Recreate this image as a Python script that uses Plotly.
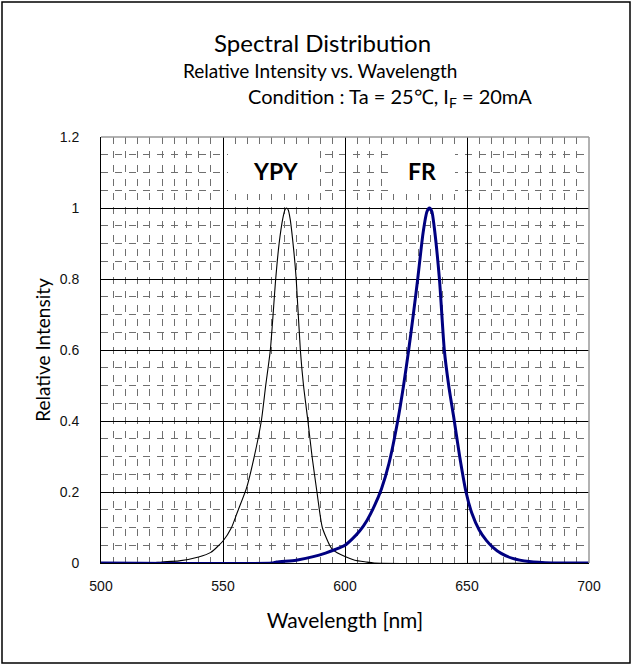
import plotly.graph_objects as go

# ---- data ----
ypy_wl = [500, 520, 525, 532, 540, 545, 550, 553.5, 556, 559.6, 562, 565.7, 567.5, 569.4,
          571.6, 573, 574.5, 575.4, 576, 576.7, 577.5, 579, 580, 581.7, 583, 584.8, 586.5, 588.5, 590.7,
          593.7, 595, 600, 604, 608.6, 612, 700]
ypy_val = [0, 0, 0.003, 0.006, 0.017, 0.03, 0.062, 0.1, 0.145, 0.21, 0.275, 0.4, 0.5, 0.6,
           0.8, 0.9, 0.97, 0.995, 1.0, 0.995, 0.97, 0.88, 0.8, 0.6, 0.5, 0.4, 0.3, 0.2, 0.1,
           0.05, 0.037, 0.018, 0.008, 0.003, 0, 0]

fr_wl = [500, 570, 572, 580, 587, 592, 596, 600, 603, 606, 609, 612, 615, 618, 621.6, 624,
         626.1, 628, 629.8, 632, 633.6, 634.6, 635.6, 636.5, 638.7, 640.7, 642.5, 644.8, 647, 649.6, 652,
         655, 658, 660.5, 664, 668.7, 675.5, 685, 700]
fr_val = [0, 0, 0.003, 0.008, 0.018, 0.028, 0.038, 0.05, 0.068, 0.09, 0.12, 0.16, 0.21, 0.28, 0.4, 0.5,
          0.6, 0.7, 0.8, 0.93, 0.99, 1.0, 0.99, 0.95, 0.8, 0.6, 0.5, 0.4, 0.3, 0.2, 0.14,
          0.093, 0.063, 0.045, 0.027, 0.013, 0.004, 0, 0]

x_ticks = [500, 550, 600, 650, 700]
y_ticks = [0, 0.2, 0.4, 0.6, 0.8, 1.0, 1.2]
y_tick_text = ["0", "0.2", "0.4", "0.6", "0.8", "1", "1.2"]

W, H = 632, 665
ML, MR, MT, MB = 101, 43, 137, 102
pw, ph = W - ML - MR, H - MT - MB

fig = go.Figure()
fig.add_trace(go.Scatter(x=ypy_wl, y=ypy_val, mode="lines", line_shape="spline",
                         line=dict(color="black", width=1.1, smoothing=0.6), name="YPY", hoverinfo="skip"))
fig.add_trace(go.Scatter(x=fr_wl, y=fr_val, mode="lines", line_shape="spline",
                         line=dict(color="#000080", width=3, smoothing=0.6), name="FR", hoverinfo="skip"))

TXT = "Lato"
tickfont = dict(family="Liberation Sans", size=14, color="#111111")
fig.update_xaxes(range=[500, 700], tickvals=x_ticks, ticks="", showline=True, linecolor="black",
                 linewidth=1, showgrid=True, gridcolor="black", gridwidth=1, zeroline=False,
                 minor=dict(dtick=5, showgrid=True, gridcolor="#6f6f6f", gridwidth=1,
                            griddash="7px,7px"),
                 tickfont=tickfont, ticklabelstandoff=10,
                 title=dict(text="Wavelength [nm]", font=dict(family=TXT, size=21, color="black"),
                            standoff=20))
fig.update_yaxes(range=[0, 1.2], tickvals=y_ticks, ticktext=y_tick_text, ticks="", showline=True,
                 linecolor="black", linewidth=1, showgrid=True, gridcolor="black", gridwidth=1,
                 zeroline=False,
                 minor=dict(dtick=0.05, showgrid=True, gridcolor="#6f6f6f", gridwidth=1,
                            griddash="7px,7px"),
                 tickfont=tickfont, ticklabelstandoff=18,
                 title=dict(text="Relative Intensity", font=dict(family=TXT, size=19, color="black"),
                            standoff=4))

def px_x(p):
    return (p - ML) / pw

def px_y(p):
    return 1 - (p - MT) / ph

shapes = [
    # cleared boxes behind the series labels
    dict(type="rect", xref="paper", yref="paper", layer="above",
         x0=px_x(228), x1=px_x(318), y0=px_y(194), y1=px_y(150),
         fillcolor="white", line=dict(width=0)),
    dict(type="rect", xref="paper", yref="paper", layer="above",
         x0=px_x(388), x1=px_x(455), y0=px_y(194), y1=px_y(150),
         fillcolor="white", line=dict(width=0)),
    # plot frame top/right (gray)
    dict(type="line", xref="paper", yref="paper", x0=0, x1=1, y0=1, y1=1,
         line=dict(color="#999999", width=1.5)),
    dict(type="line", xref="paper", yref="paper", x0=1, x1=1, y0=0, y1=1,
         line=dict(color="#999999", width=1.5)),
    # outer border
    dict(type="rect", xref="paper", yref="paper", x0=px_x(2), x1=px_x(630), y0=px_y(2), y1=px_y(663),
         line=dict(color="black", width=1.5)),
]

def ann(text, x, y, size, bold=False):
    return dict(text=("<b>%s</b>" % text) if bold else text, x=px_x(x), y=px_y(y),
                xref="paper", yref="paper", xanchor="center", yanchor="middle",
                showarrow=False, font=dict(family=TXT, size=size, color="black"))

annotations = [
    ann("Spectral Distribution", 322, 43, 24),
    ann("Relative Intensity vs. Wavelength", 320, 70, 19),
    ann("Condition : Ta = 25\u2103, I<sub>F</sub> = 20mA", 390, 97, 20),
    ann("YPY", 276, 171, 23, bold=True),
    ann("FR", 422, 171, 23, bold=True),
]

fig.update_layout(width=W, height=H, margin=dict(l=ML, r=MR, t=MT, b=MB),
                  plot_bgcolor="white", paper_bgcolor="white", showlegend=False,
                  shapes=shapes, annotations=annotations)

fig.write_html("out.html", config={"displayModeBar": False},
               post_script="document.body.style.margin='0px';document.body.style.overflow='hidden';")
